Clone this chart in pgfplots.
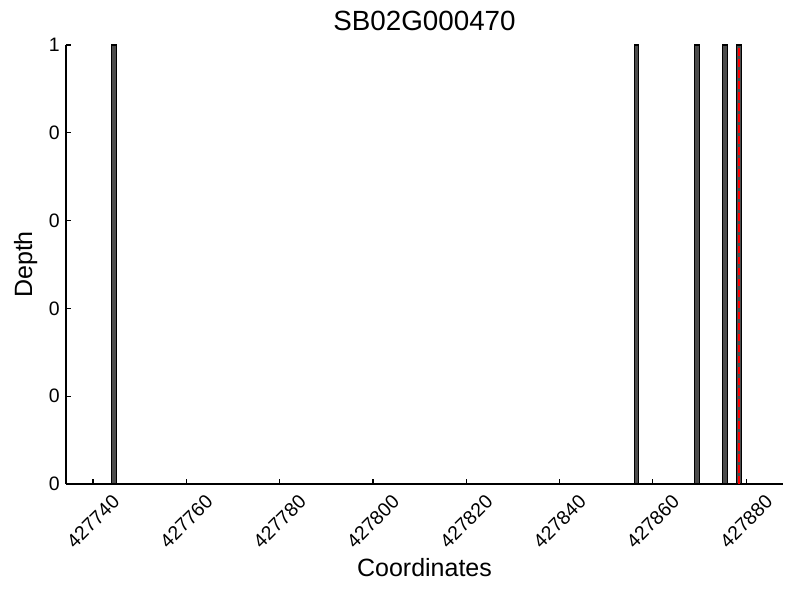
\documentclass[border=0pt]{standalone}
\usepackage{pgfplots}
\pgfplotsset{compat=1.18}
\usepackage{fontspec}
\setmainfont{Liberation Sans}
\begin{document}
\begin{tikzpicture}
\path[use as bounding box] (-47.5pt,-83.5pt) rectangle (528.5pt,348.4pt);
\begin{axis}[
  at={(0,0)}, anchor=south west,
  scale only axis,
  width=516.3pt, height=316pt,
  xmin=427734.2, xmax=427887.9,
  ymin=0, ymax=1,
  axis x line*=bottom, axis y line*=left,
  axis line style={line width=0.9pt, -},
  tick align=inside,
  major tick length=3.5pt,
  tick style={line width=0.8pt, black},
  xtick={427740,427760,427780,427800,427820,427840,427860,427880},
  xticklabels={427740,427760,427780,427800,427820,427840,427860,427880},
  ytick={0,0.2,0.4,0.6,0.8,1},
  yticklabels={0,0,0,0,0,1},
  scaled x ticks=false,
  /pgf/number format/assume math mode=true,
  xticklabel style={font=\fontsize{14}{16}\selectfont, yshift=-27pt, rotate=45, anchor=center},
  yticklabel style={font=\fontsize{14}{16}\selectfont, anchor=east, xshift=-1pt},
  title={SB02G000470},
  title style={font=\fontsize{20}{22}\selectfont, at={(axis description cs:0.5,1)}, anchor=base, yshift=4.5pt},
  xlabel={Coordinates},
  xlabel style={font=\fontsize{18}{20}\selectfont, at={(axis description cs:0.5,-0.1915)}, anchor=center},
  ylabel={Depth},
  ylabel style={font=\fontsize{18}{20}\selectfont, at={(axis description cs:-0.0562,0.5)}, anchor=center},
  clip=false,
]
\addplot[ybar, bar width=1, bar shift=0pt, fill=black!70, draw=black, line width=0.8pt]
  coordinates {(427744.5,1) (427856.5,1) (427869.5,1) (427875.5,1) (427878.5,1)};
\addplot[red, line width=1.5pt, dash pattern=on 5.5pt off 2.4pt]
  coordinates {(427878.4,0) (427878.4,1)};
\end{axis}
\end{tikzpicture}
\end{document}
